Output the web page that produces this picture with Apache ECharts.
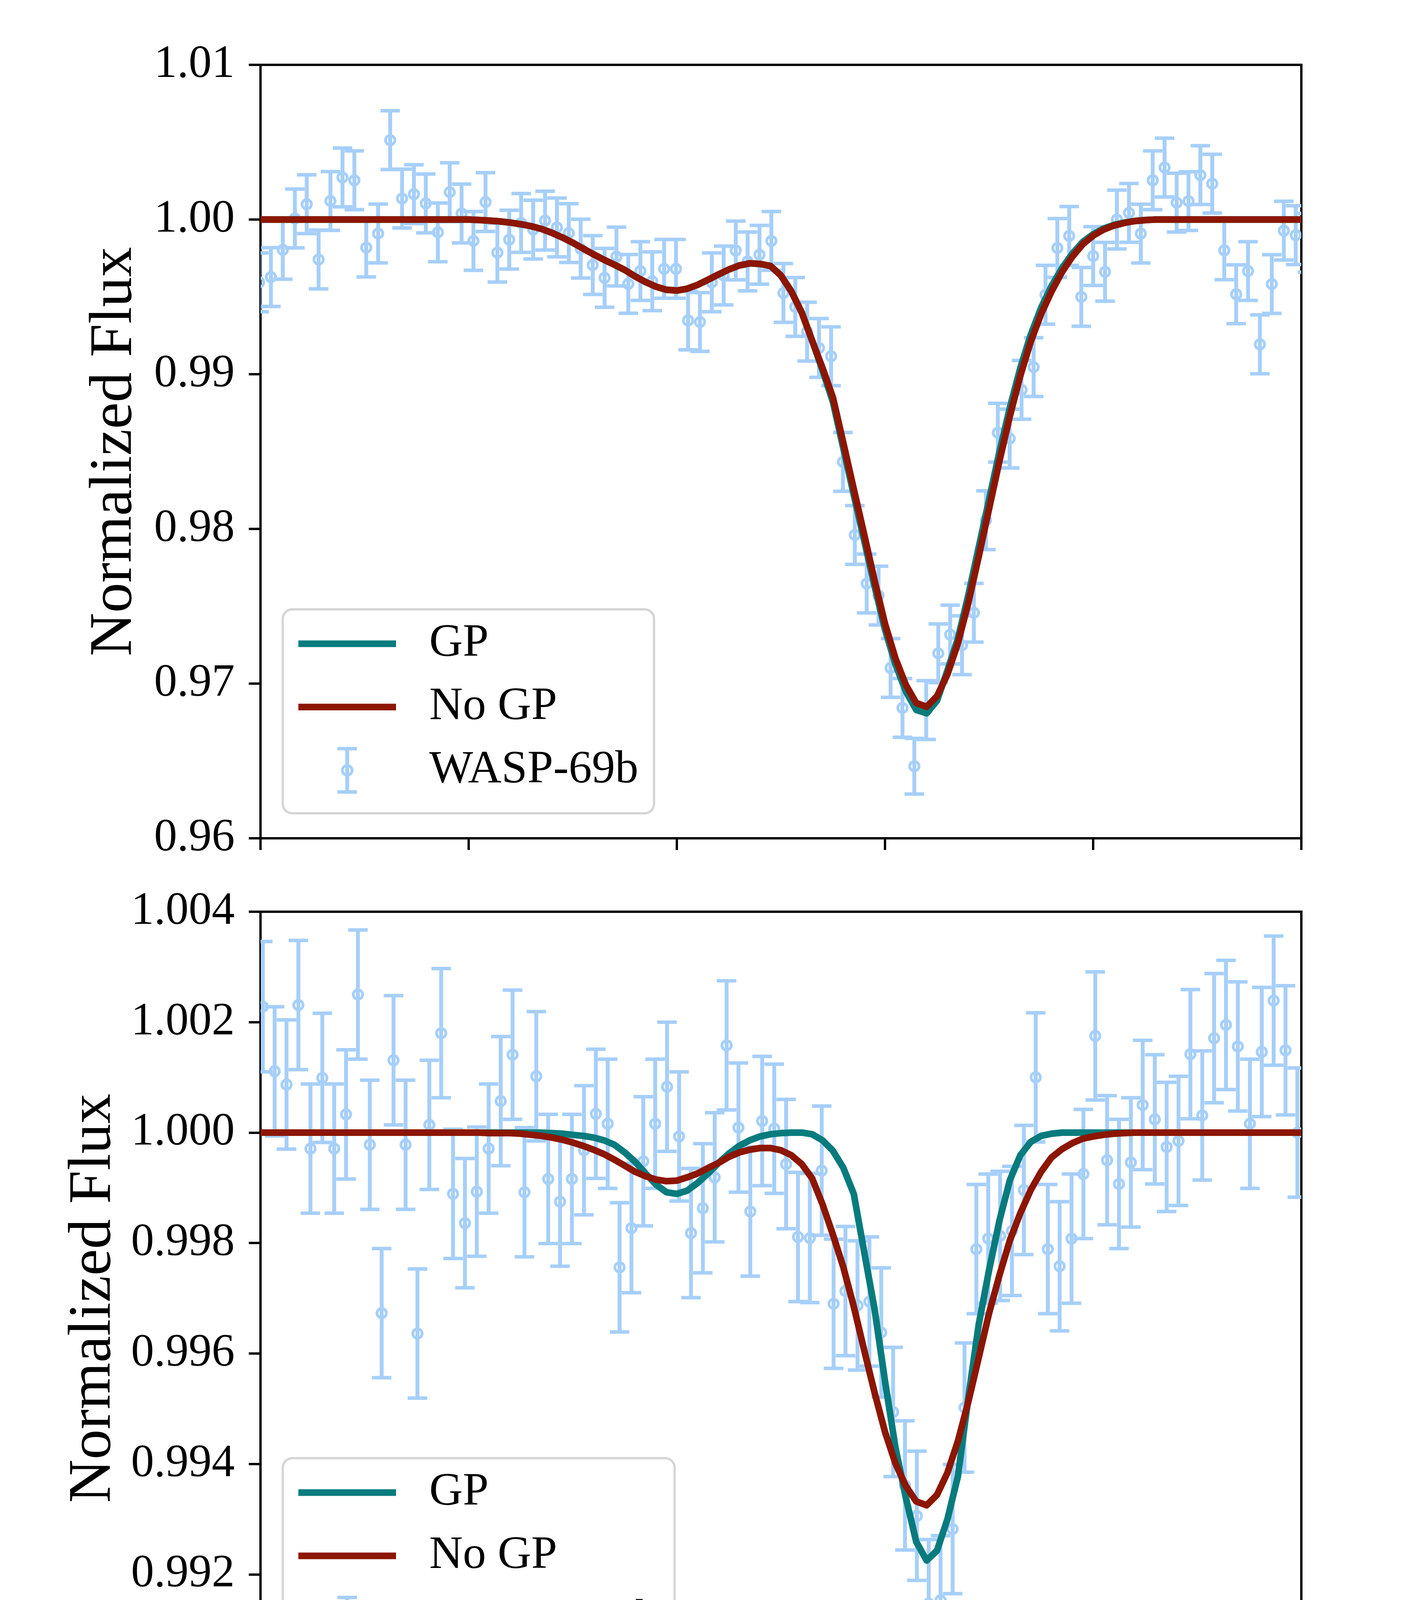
<!DOCTYPE html>
<html>
<head>
<meta charset="utf-8">
<title>He I 10833 line: GP vs no GP fits</title>
<script src="https://cdn.jsdelivr.net/npm/echarts@6/dist/echarts.min.js"></script>
<style>
  html, body { margin: 0; padding: 0; background: #fff; }
  #chart { width: 3600px; height: 4800px; }
</style>
</head>
<body>
<div id="chart"></div>
<script>
// ---- values ----

// top panel: WASP-69b
const waveTop = [
  10826.993, 10827.050, 10827.107, 10827.165, 10827.222, 10827.279, 10827.336, 10827.394, 10827.451, 10827.508,
  10827.565, 10827.623, 10827.680, 10827.737, 10827.794, 10827.852, 10827.909, 10827.966, 10828.023, 10828.081,
  10828.138, 10828.195, 10828.252, 10828.310, 10828.367, 10828.424, 10828.481, 10828.538, 10828.596, 10828.653,
  10828.710, 10828.767, 10828.825, 10828.882, 10828.939, 10828.996, 10829.054, 10829.111, 10829.168, 10829.225,
  10829.283, 10829.340, 10829.397, 10829.454, 10829.512, 10829.569, 10829.626, 10829.683, 10829.741, 10829.798,
  10829.855, 10829.912, 10829.969, 10830.027, 10830.084, 10830.141, 10830.198, 10830.256, 10830.313, 10830.370,
  10830.427, 10830.485, 10830.542, 10830.599, 10830.656, 10830.714, 10830.771, 10830.828, 10830.885, 10830.943,
  10831.000, 10831.057, 10831.114, 10831.172, 10831.229, 10831.286, 10831.343, 10831.401, 10831.458, 10831.515,
  10831.572, 10831.630, 10831.687, 10831.744, 10831.801, 10831.858, 10831.916, 10831.973, 10832.030
];
const fluxTop = [
  0.99594, 0.99628, 0.99804, 1.00007, 1.00099, 0.99742, 1.00120, 1.00272, 1.00254, 0.99819,
  0.99910, 1.00513, 1.00136, 1.00164, 1.00104, 0.99917, 1.00177, 1.00039, 0.99862, 1.00113,
  0.99786, 0.99870, 0.99978, 0.99935, 0.99993, 0.99949, 0.99912, 0.99812, 0.99706, 0.99623,
  0.99761, 0.99584, 0.99667, 0.99601, 0.99681, 0.99681, 0.99348, 0.99338, 0.99594, 0.99638,
  0.99800, 0.99729, 0.99772, 0.99862, 0.99525, 0.99435, 0.99275, 0.99170, 0.99116, 0.98433,
  0.97961, 0.97647, 0.97569, 0.97101, 0.96843, 0.96466, 0.96829, 0.97196, 0.97317, 0.97248,
  0.97458, 0.98056, 0.98622, 0.98584, 0.98899, 0.99046, 0.99514, 0.99816, 0.99894, 0.99500,
  0.99764, 0.99662, 1.00000, 1.00043, 0.99909, 1.00254, 1.00336, 1.00109, 1.00119, 1.00287,
  1.00232, 0.99801, 0.99517, 0.99667, 0.99193, 0.99583, 0.99928, 0.99899, 0.99850
];
const errTop = [
  0.0019, 0.0019, 0.0019, 0.0019, 0.0019, 0.0019, 0.0019, 0.0019, 0.0019, 0.0019,
  0.0019, 0.0019, 0.0019, 0.0019, 0.0019, 0.0019, 0.0019, 0.0019, 0.0019, 0.0019,
  0.0019, 0.0019, 0.0019, 0.0019, 0.0019, 0.0019, 0.0019, 0.0019, 0.0019, 0.0019,
  0.0019, 0.0019, 0.0019, 0.0019, 0.0019, 0.0019, 0.0019, 0.0019, 0.0019, 0.0019,
  0.0019, 0.0019, 0.0019, 0.0019, 0.0019, 0.0019, 0.0019, 0.0019, 0.0019, 0.0019,
  0.0019, 0.0019, 0.0019, 0.0019, 0.0019, 0.0018, 0.0019, 0.0019, 0.0019, 0.0019,
  0.0019, 0.0019, 0.0019, 0.0019, 0.0019, 0.0019, 0.0019, 0.0019, 0.0019, 0.0019,
  0.0019, 0.0019, 0.0019, 0.0019, 0.0019, 0.0019, 0.0019, 0.0019, 0.0019, 0.0019,
  0.0019, 0.0019, 0.0019, 0.0019, 0.0019, 0.0019, 0.0019, 0.0019, 0.0019
];

// bottom panel: HD209458b
const waveBottom = [
  10827.011, 10827.068, 10827.125, 10827.182, 10827.240, 10827.297, 10827.354, 10827.411, 10827.468, 10827.525,
  10827.582, 10827.639, 10827.697, 10827.754, 10827.811, 10827.868, 10827.925, 10827.982, 10828.039, 10828.096,
  10828.154, 10828.211, 10828.268, 10828.325, 10828.382, 10828.439, 10828.496, 10828.554, 10828.611, 10828.668,
  10828.725, 10828.782, 10828.839, 10828.896, 10828.953, 10829.011, 10829.068, 10829.125, 10829.182, 10829.239,
  10829.296, 10829.353, 10829.410, 10829.468, 10829.525, 10829.582, 10829.639, 10829.696, 10829.753, 10829.810,
  10829.868, 10829.925, 10829.982, 10830.039, 10830.096, 10830.153, 10830.210, 10830.267, 10830.325, 10830.382,
  10830.439, 10830.496, 10830.553, 10830.610, 10830.667, 10830.724, 10830.782, 10830.839, 10830.896, 10830.953,
  10831.010, 10831.067, 10831.124, 10831.181, 10831.238, 10831.296, 10831.353, 10831.410, 10831.467, 10831.524,
  10831.581, 10831.638, 10831.695, 10831.753, 10831.810, 10831.867, 10831.924, 10831.981
];
const fluxBottom = [
  1.00228, 1.00111, 1.00087, 1.00231, 0.99971, 1.00099, 0.99971, 1.00033, 1.00250, 0.99978,
  0.99673, 1.00131, 0.99978, 0.99636, 1.00014, 1.00180, 0.99889, 0.99836, 0.99893, 0.99971,
  1.00057, 1.00141, 0.99892, 1.00102, 0.99916, 0.99875, 0.99916, 0.99968, 1.00034, 1.00016,
  0.99756, 0.99827, 0.99948, 1.00016, 1.00083, 0.99993, 0.99818, 0.99863, 0.99919, 1.00158,
  1.00009, 0.99857, 1.00021, 1.00007, 0.99943, 0.99811, 0.99809, 0.99931, 0.99690, 0.99713,
  0.99687, 0.99694, 0.99638, 0.99494, 0.99361, 0.99306, 0.99147, 0.99153, 0.99282, 0.99502,
  0.99789, 0.99808, 0.99813, 0.99822, 0.99896, 1.00100, 0.99789, 0.99758, 0.99808, 0.99925,
  1.00175, 0.99950, 0.99907, 0.99946, 1.00050, 1.00024, 0.99974, 0.99985, 1.00142, 1.00031,
  1.00171, 1.00195, 1.00156, 1.00016, 1.00146, 1.00239, 1.00149, 1.00000
];
const errBottom = [
  0.00118, 0.00117, 0.00117, 0.00117, 0.00117, 0.00117, 0.00117, 0.00117, 0.00117, 0.00117,
  0.00117, 0.00117, 0.00117, 0.00117, 0.00117, 0.00117, 0.00117, 0.00117, 0.00117, 0.00117,
  0.00117, 0.00117, 0.00117, 0.00117, 0.00117, 0.00117, 0.00117, 0.00117, 0.00117, 0.00117,
  0.00117, 0.00117, 0.00117, 0.00117, 0.00117, 0.00117, 0.00117, 0.00117, 0.00117, 0.00117,
  0.00117, 0.00117, 0.00117, 0.00117, 0.00117, 0.00117, 0.00117, 0.00117, 0.00117, 0.00117,
  0.00117, 0.00117, 0.00117, 0.00117, 0.00117, 0.00117, 0.00116, 0.00117, 0.00117, 0.00117,
  0.00117, 0.00117, 0.00117, 0.00117, 0.00117, 0.00117, 0.00117, 0.00117, 0.00117, 0.00117,
  0.00116, 0.00117, 0.00117, 0.00117, 0.00117, 0.00117, 0.00117, 0.00117, 0.00117, 0.00117,
  0.00117, 0.00117, 0.00117, 0.00117, 0.00117, 0.00117, 0.00117, 0.00117
];

// model curves (top)
const modelWaveTop = [
  10827.00,
  10828.00, 10828.05, 10828.10, 10828.15, 10828.20, 10828.25, 10828.30, 10828.35, 10828.40, 10828.45,
  10828.50, 10828.55, 10828.60, 10828.65, 10828.70, 10828.75, 10828.80, 10828.85, 10828.90, 10828.95,
  10829.00, 10829.05, 10829.10, 10829.15, 10829.20, 10829.25, 10829.30, 10829.35, 10829.40, 10829.45,
  10829.50, 10829.55, 10829.60, 10829.65, 10829.70, 10829.75, 10829.80, 10829.85, 10829.90, 10829.95,
  10830.00, 10830.05, 10830.10, 10830.15, 10830.20, 10830.25, 10830.30, 10830.35, 10830.40, 10830.45,
  10830.50, 10830.55, 10830.60, 10830.65, 10830.70, 10830.75, 10830.80, 10830.85, 10830.90, 10830.95,
  10831.00, 10831.05, 10831.10, 10831.15, 10831.20, 10831.25, 10831.30,
  10832.00
];
const noGpTop = [
  1.00000,
  1.00000, 0.99997, 0.99993, 0.99988, 0.99980, 0.99970, 0.99957, 0.99939, 0.99914, 0.99884,
  0.99850, 0.99812, 0.99775, 0.99740, 0.99708, 0.99674, 0.99632, 0.99596, 0.99566, 0.99546,
  0.99541, 0.99553, 0.99578, 0.99611, 0.99645, 0.99677, 0.99703, 0.99717, 0.99713, 0.99700,
  0.99638, 0.99536, 0.99399, 0.99217, 0.99040, 0.98849, 0.98555, 0.98257, 0.97964, 0.97666,
  0.97387, 0.97164, 0.96992, 0.96875, 0.96850, 0.96919, 0.97060, 0.97260, 0.97520, 0.97820,
  0.98130, 0.98440, 0.98730, 0.98990, 0.99210, 0.99390, 0.99535, 0.99660, 0.99760, 0.99840,
  0.99896, 0.99935, 0.99961, 0.99978, 0.99990, 0.99996, 1.00000,
  1.00000
];
const gpTop = [
  1.00000,
  1.00000, 0.99997, 0.99993, 0.99988, 0.99980, 0.99970, 0.99957, 0.99939, 0.99914, 0.99884,
  0.99850, 0.99812, 0.99775, 0.99740, 0.99708, 0.99674, 0.99632, 0.99596, 0.99566, 0.99546,
  0.99541, 0.99553, 0.99578, 0.99611, 0.99645, 0.99677, 0.99703, 0.99717, 0.99713, 0.99700,
  0.99638, 0.99536, 0.99399, 0.99217, 0.99025, 0.98820, 0.98520, 0.98220, 0.97925, 0.97630,
  0.97350, 0.97125, 0.96950, 0.96830, 0.96808, 0.96890, 0.97085, 0.97290, 0.97570, 0.97880,
  0.98190, 0.98500, 0.98785, 0.99040, 0.99255, 0.99430, 0.99570, 0.99685, 0.99780, 0.99855,
  0.99905, 0.99942, 0.99965, 0.99980, 0.99991, 0.99997, 1.00000,
  1.00000
];

// model curves (bottom)
const modelWaveBottom = [
  10827.00,
  10828.00, 10828.05, 10828.10, 10828.15, 10828.20, 10828.25, 10828.30, 10828.35, 10828.40, 10828.45,
  10828.50, 10828.55, 10828.60, 10828.65, 10828.70, 10828.75, 10828.80, 10828.85, 10828.90, 10828.95,
  10829.00, 10829.05, 10829.10, 10829.15, 10829.20, 10829.25, 10829.30, 10829.35, 10829.40, 10829.45,
  10829.50, 10829.55, 10829.60, 10829.65, 10829.70, 10829.75, 10829.80, 10829.85, 10829.90, 10829.95,
  10830.00, 10830.05, 10830.10, 10830.15, 10830.20, 10830.25, 10830.30, 10830.35, 10830.40, 10830.45,
  10830.50, 10830.55, 10830.60, 10830.65, 10830.70, 10830.75, 10830.80, 10830.85, 10830.90, 10830.95,
  10831.00, 10831.05, 10831.10, 10831.15, 10831.20,
  10832.00
];
const noGpBottom = [
  1.00000,
  1.00000, 1.00000, 0.99999, 0.99999, 0.99999, 0.99998, 0.99996, 0.99994, 0.99991, 0.99987,
  0.99982, 0.99976, 0.99969, 0.99961, 0.99951, 0.99940, 0.99929, 0.99921, 0.99915, 0.99912,
  0.99913, 0.99919, 0.99926, 0.99936, 0.99945, 0.99956, 0.99964, 0.99969, 0.99972, 0.99972,
  0.99968, 0.99959, 0.99943, 0.99917, 0.99870, 0.99815, 0.99756, 0.99685, 0.99606, 0.99529,
  0.99458, 0.99401, 0.99360, 0.99332, 0.99325, 0.99344, 0.99384, 0.99441, 0.99512, 0.99592,
  0.99673, 0.99742, 0.99805, 0.99854, 0.99896, 0.99929, 0.99955, 0.99970, 0.99981, 0.99989,
  0.99993, 0.99996, 0.99998, 0.99999, 1.00000,
  1.00000
];
const gpBottom = [
  1.00000,
  1.00000, 1.00000, 1.00000, 1.00000, 1.00000, 1.00000, 1.00000, 1.00000, 0.99999, 0.99998,
  0.99996, 0.99994, 0.99991, 0.99986, 0.99978, 0.99964, 0.99947, 0.99926, 0.99906, 0.99892,
  0.99889, 0.99895, 0.99909, 0.99926, 0.99945, 0.99962, 0.99976, 0.99986, 0.99993, 0.99997,
  0.99999, 1.00000, 1.00000, 0.99997, 0.99986, 0.99967, 0.99936, 0.99889, 0.99784, 0.99680,
  0.99550, 0.99430, 0.99339, 0.99259, 0.99225, 0.99243, 0.99300, 0.99377, 0.99519, 0.99652,
  0.99751, 0.99841, 0.99914, 0.99959, 0.99983, 0.99994, 0.99998, 1.00000, 1.00000, 1.00000,
  1.00000, 1.00000, 1.00000, 1.00000, 1.00000,
  1.00000
];

// axis ticks
const xTicks = [10827, 10828, 10829, 10830, 10831, 10832];
const yTicksTop = [0.96, 0.97, 0.98, 0.99, 1.00, 1.01];
const yTicksBottom = [0.990, 0.992, 0.994, 0.996, 0.998, 1.000, 1.002, 1.004];

// ---- styling ----
const FONT = "'Liberation Serif', 'DejaVu Serif', serif";
const TEAL = '#087b7d';
const DARKRED = '#8c1600';
const POINTBLUE = '#a6cff9';

const LINE_ICON = 'path://M0,0L0.4,0L0,0.4Z M0,51.5L250,51.5L250,68.5L0,68.5Z M250,120L249.6,120L250,119.6Z';
const ERR_ICON = 'path://M0,0L0.4,0L0,0.4Z M120,0L130,0L130,120L120,120Z M100,0L150,0L150,9L100,9Z ' +
  'M100,111L150,111L150,120L100,120Z M109,60A16,16 0 1,1 141,60A16,16 0 1,1 109,60Z ' +
  'M116,60A9,9 0 1,0 134,60A9,9 0 1,0 116,60Z M250,120L249.6,120L250,119.6Z';

function pairs(xs, ys) {
  return xs.map((x, i) => [x, ys[i]]);
}
function triples(xs, ys, es) {
  return xs.map((x, i) => [x, ys[i], es[i]]);
}

function errorBarItem(params, api) {
  const x = api.value(0);
  const y = api.value(1);
  const e = api.value(2);
  const mid = api.coord([x, y]);
  const hi = api.coord([x, y + e]);
  const lo = api.coord([x, y - e]);
  const cap = 25;
  const bar = { stroke: POINTBLUE, lineWidth: 10 };
  const capStyle = { stroke: POINTBLUE, lineWidth: 9 };
  return {
    type: 'group',
    children: [
      { type: 'line', shape: { x1: mid[0], y1: hi[1], x2: mid[0], y2: lo[1] }, style: bar },
      { type: 'line', shape: { x1: mid[0] - cap, y1: hi[1], x2: mid[0] + cap, y2: hi[1] }, style: capStyle },
      { type: 'line', shape: { x1: mid[0] - cap, y1: lo[1], x2: mid[0] + cap, y2: lo[1] }, style: capStyle },
      { type: 'circle', shape: { cx: mid[0], cy: mid[1], r: 12 },
        style: { stroke: POINTBLUE, lineWidth: 7, fill: 'none' } }
    ]
  };
}

function xAxisFor(gridIndex, withLabels) {
  return {
    type: 'value',
    gridIndex: gridIndex,
    min: xTicks[0],
    max: xTicks[xTicks.length - 1],
    interval: 1,
    axisLine: { show: true, onZero: false, lineStyle: { color: '#000', width: 6 } },
    axisTick: { show: true, inside: false, length: 30, lineStyle: { color: '#000', width: 6 } },
    axisLabel: {
      show: withLabels, margin: 42, fontSize: 118, fontFamily: FONT, color: '#000',
      showMinLabel: true, showMaxLabel: true,
      formatter: v => v.toFixed(0)
    },
    splitLine: { show: false },
    name: withLabels ? 'Wavelength (Å)' : '',
    nameLocation: 'middle',
    nameGap: 205,
    nameTextStyle: { fontSize: 154, fontFamily: FONT, color: '#000' }
  };
}

function yAxisFor(gridIndex, ticks, step, digits, gap) {
  return {
    type: 'value',
    gridIndex: gridIndex,
    min: ticks[0],
    max: ticks[ticks.length - 1],
    interval: step,
    axisLine: { show: true, onZero: false, lineStyle: { color: '#000', width: 6 } },
    axisTick: { show: true, inside: false, length: 30, lineStyle: { color: '#000', width: 6 } },
    axisLabel: {
      margin: 66, fontSize: 118, fontFamily: FONT, color: '#000',
      showMinLabel: true, showMaxLabel: true,
      formatter: v => v.toFixed(digits)
    },
    splitLine: { show: false },
    name: 'Normalized Flux',
    nameLocation: 'middle',
    nameRotate: 90,
    nameGap: gap,
    nameTextStyle: { fontSize: 154, fontFamily: FONT, color: '#000' }
  };
}

function legendFor(top, pointsName) {
  return {
    orient: 'vertical',
    left: 724,
    top: top,
    align: 'left',
    itemWidth: 250,
    itemHeight: 120,
    itemGap: 42,
    padding: [28, 40, 50, 40],
    backgroundColor: 'rgba(255,255,255,0.8)',
    borderColor: '#d6d6d6',
    borderWidth: 6,
    borderRadius: 24,
    selectedMode: false,
    textStyle: {
      fontSize: 119, fontFamily: FONT, color: '#000', lineHeight: 120,
      padding: [0, 0, 0, 80]
    },
    data: [
      { name: 'GP', icon: LINE_ICON, itemStyle: { color: TEAL, borderWidth: 0 } },
      { name: 'No GP', icon: LINE_ICON, itemStyle: { color: DARKRED, borderWidth: 0 } },
      { name: pointsName, icon: ERR_ICON, itemStyle: { color: POINTBLUE, borderWidth: 0 } }
    ]
  };
}

function modelLine(name, color, axis, waves, values, z) {
  return {
    name: name,
    type: 'line',
    xAxisIndex: axis,
    yAxisIndex: axis,
    data: pairs(waves, values),
    showSymbol: false,
    symbol: 'none',
    color: color,
    itemStyle: { color: color },
    lineStyle: { color: color, width: 17, join: 'round', cap: 'butt' },
    z: z,
    silent: true
  };
}

function pointsSeries(name, axis, waves, flux, err) {
  return {
    name: name,
    type: 'custom',
    xAxisIndex: axis,
    yAxisIndex: axis,
    renderItem: errorBarItem,
    data: triples(waves, flux, err),
    encode: { x: 0, y: 1 },
    clip: true,
    color: POINTBLUE,
    itemStyle: { color: POINTBLUE },
    z: 2,
    silent: true
  };
}

const chart = echarts.init(document.getElementById('chart'), null, { renderer: 'canvas' });

chart.setOption({
  animation: false,
  backgroundColor: '#ffffff',
  grid: [
    { left: 667, top: 166, width: 2665, height: 1980, show: true, borderColor: '#000', borderWidth: 6,
      backgroundColor: 'transparent', containLabel: false },
    { left: 667, top: 2334, width: 2665, height: 1979, show: true, borderColor: '#000', borderWidth: 6,
      backgroundColor: 'transparent', containLabel: false }
  ],
  xAxis: [xAxisFor(0, false), xAxisFor(1, true)],
  yAxis: [
    yAxisFor(0, yTicksTop, 0.01, 2, 295),
    yAxisFor(1, yTicksBottom, 0.002, 3, 349)
  ],
  legend: [legendFor(1560, 'WASP-69b'), legendFor(3733, 'HD209458b')],
  series: [
    pointsSeries('WASP-69b', 0, waveTop, fluxTop, errTop),
    modelLine('GP', TEAL, 0, modelWaveTop, gpTop, 3),
    modelLine('No GP', DARKRED, 0, modelWaveTop, noGpTop, 4),
    pointsSeries('HD209458b', 1, waveBottom, fluxBottom, errBottom),
    modelLine('GP', TEAL, 1, modelWaveBottom, gpBottom, 3),
    modelLine('No GP', DARKRED, 1, modelWaveBottom, noGpBottom, 4)
  ]
});
</script>
</body>
</html>
